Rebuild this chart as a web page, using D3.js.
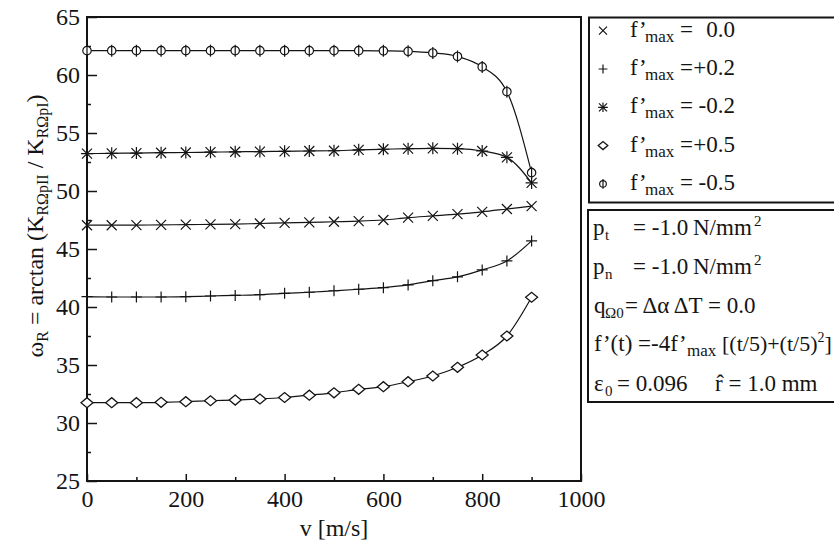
<!DOCTYPE html>
<html><head><meta charset="utf-8">
<script src="https://cdn.jsdelivr.net/npm/d3@7"></script>
<style>
body{margin:0;background:#fff;}
svg{display:block;font-family:"Liberation Serif","Times New Roman",serif;}
</style></head>
<body><svg id="c" width="834" height="544"></svg>
<script>
// ---- data ----
const vValues = [0,50,100,150,200,250,300,350,400,450,500,550,600,650,700,750,800,850,900];
const fmax00  = [47.05,47.05,47.06,47.08,47.10,47.12,47.15,47.20,47.25,47.30,47.35,47.40,47.50,47.70,47.85,48.00,48.20,48.45,48.70];
const fmaxP02 = [40.89,40.86,40.86,40.86,40.89,40.95,41.00,41.06,41.18,41.27,41.40,41.53,41.67,41.90,42.27,42.60,43.20,43.97,45.70];
const fmaxM02 = [53.22,53.25,53.27,53.30,53.32,53.35,53.38,53.40,53.42,53.45,53.47,53.55,53.60,53.65,53.68,53.65,53.45,52.90,50.70];
const fmaxP05 = [31.75,31.75,31.75,31.78,31.84,31.92,31.98,32.07,32.20,32.40,32.60,32.90,33.13,33.56,34.05,34.80,35.86,37.50,40.84];
const fmaxM05 = [62.10,62.10,62.10,62.10,62.10,62.10,62.10,62.10,62.10,62.10,62.10,62.10,62.08,62.04,61.90,61.60,60.70,58.56,51.58];
const seriesNames = ["0.0","+0.2","-0.2","+0.5","-0.5"];
const seriesMarkers = ["x","plus","star","diamond","phi"];
const seriesValues = [fmax00,fmaxP02,fmaxM02,fmaxP05,fmaxM05];
const xMajorTicks = [0,200,400,600,800,1000];
const xMinorTicks = [100,300,500,700,900];
const yMajorTicks = [25,30,35,40,45,50,55,60,65];
const yMinorTicks = [27.5,32.5,37.5,42.5,47.5,52.5,57.5,62.5];

const ink = "#141414";
const svg = d3.select("#c");
const L=87,R=581,T=17,B=481;
const x = d3.scaleLinear().domain([0,1000]).range([L,R]);
const y = d3.scaleLinear().domain([25,65]).range([B,T]);

// axes
const gx = svg.append("g").attr("transform",`translate(0,${B})`)
  .call(d3.axisBottom(x).tickValues(xMajorTicks).tickSize(-7).tickPadding(9).tickFormat(d3.format("d")));
const gxm = svg.append("g").attr("transform",`translate(0,${B})`)
  .call(d3.axisBottom(x).tickValues(xMinorTicks).tickSize(-4).tickFormat(""));
const gy = svg.append("g").attr("transform",`translate(${L},0)`)
  .call(d3.axisLeft(y).tickValues(yMajorTicks).tickSize(-10).tickPadding(7).tickFormat(d3.format("d")));
const gym = svg.append("g").attr("transform",`translate(${L},0)`)
  .call(d3.axisLeft(y).tickValues(yMinorTicks).tickSize(-4).tickFormat(""));
[gx,gxm,gy,gym].forEach(g=>{
  g.select(".domain").remove();
  g.selectAll(".tick line").attr("stroke",ink).attr("stroke-width",1.5);
  g.selectAll("text").attr("fill",ink).style("font-size","24px").style("font-family","Liberation Serif");
});

// frame
svg.append("rect").attr("x",L).attr("y",T).attr("width",R-L).attr("height",B-T)
  .attr("fill","none").attr("stroke",ink).attr("stroke-width",2);

// lines
const line = d3.line().x((d,i)=>x(vValues[i])).y(d=>y(d)).curve(d3.curveMonotoneX);
seriesValues.forEach(vals=>{
  svg.append("path").datum(vals).attr("d",line).attr("fill","none").attr("stroke",ink).attr("stroke-width",1.2);
});

function marker(g,type,s){
  s = s||1;
  const a=5*s;
  if(type==="x"||type==="star"){
    g.append("path").attr("d",`M${-a},${-a}L${a},${a}M${-a},${a}L${a},${-a}`).attr("stroke",ink).attr("stroke-width",1.2);
  }
  if(type==="plus"||type==="star"){
    const b = type==="star"?a*1.2:a*1.1;
    g.append("path").attr("d",`M0,${-b}L0,${b}M${-b},0L${b},0`).attr("stroke",ink).attr("stroke-width",1.2);
  }
  if(type==="diamond"){
    g.append("path").attr("d",`M${-6*s},0L0,${-5*s}L${6*s},0L0,${5*s}Z`).attr("fill","#fff").attr("stroke",ink).attr("stroke-width",1.3);
  }
  if(type==="phi"){
    g.append("circle").attr("r",4.2*s).attr("fill","#fff").attr("stroke",ink).attr("stroke-width",1.2);
    g.append("path").attr("d",`M0,${-6*s}L0,${6*s}`).attr("stroke",ink).attr("stroke-width",1.2);
  }
}
seriesValues.forEach((vals,k)=>{
  const g = svg.append("g");
  g.selectAll("g").data(vals).join("g")
    .attr("transform",(d,i)=>`translate(${x(vValues[i])},${y(d)})`)
    .each(function(){ marker(d3.select(this),seriesMarkers[k],1); });
});

// axis titles
svg.append("text").attr("x",(L+R)/2).attr("y",536).attr("text-anchor","middle")
  .attr("fill",ink).style("font-size","24px").text("v [m/s]");
const yl = svg.append("text").attr("transform","translate(43,226) rotate(-90)")
  .attr("text-anchor","middle").attr("fill",ink).style("font-size","24px");
yl.append("tspan").text("ω");
yl.append("tspan").attr("dy",5).style("font-size","16px").text("R");
yl.append("tspan").attr("dy",-5).text(" = arctan (K");
yl.append("tspan").attr("dy",5).style("font-size","16px").text("RΩpII");
yl.append("tspan").attr("dy",-5).text(" / K");
yl.append("tspan").attr("dy",5).style("font-size","16px").text("RΩpI");
yl.append("tspan").attr("dy",-5).text(")");

// legend box 1
svg.append("rect").attr("x",589).attr("y",17.5).attr("width",260).attr("height",185)
  .attr("fill","#fff").attr("stroke",ink).attr("stroke-width",2);
seriesNames.forEach((nm,k)=>{
  const by = 36.7 + k*38.3;
  const g = svg.append("g").attr("transform",`translate(603,${by-6})`);
  marker(g,seriesMarkers[k],0.8);
  svg.append("text").attr("x",630).attr("y",by).attr("fill",ink).style("font-size","23px").text("f’");
  svg.append("text").attr("x",645).attr("y",by+5).attr("fill",ink).style("font-size","17px").text("max");
  svg.append("text").attr("x",680).attr("y",by).attr("fill",ink).style("font-size","23px").text("=");
  svg.append("text").attr("x",735).attr("y",by).attr("text-anchor","end").attr("fill",ink).style("font-size","23px").text(nm);
});

// legend box 2
svg.append("rect").attr("x",588).attr("y",210).attr("width",260).attr("height",192)
  .attr("fill","#fff").attr("stroke",ink).attr("stroke-width",2);
const fs="23px", sub="15px";
function t(xp,yp,str,size){ return svg.append("text").attr("x",xp).attr("y",yp).attr("fill",ink).style("font-size",size||fs).text(str); }
const b1=235,b2=274,b3=313,b4=351,b5=391;
t(593,b1,"p"); t(605,b1+5,"t",sub); t(633,b1,"= -1.0"); t(693,b1,"N/mm"); t(754,b1-9,"2","15px");
t(593,b2,"p"); t(605,b2+5,"n",sub); t(633,b2,"= -1.0"); t(693,b2,"N/mm"); t(754,b2-9,"2","15px");
t(594,b3,"q"); t(605,b3+5,"Ω0",sub); t(625,b3,"= Δα ΔT = 0.0");
t(594,b4,"f’(t) =-4f’"); t(687,b4+5,"max","17px");
const l4 = svg.append("text").attr("x",722).attr("y",b4).attr("fill",ink).style("font-size","22px");
l4.append("tspan").text("[(t/5)+(t/5)");
l4.append("tspan").attr("dy",-9).style("font-size","14px").text("2");
l4.append("tspan").attr("dy",9).text("]");
t(594,b5,"ε"); t(605,b5+5,"0",sub); t(617,b5,"= 0.096"); t(715,b5,"r̂ = 1.0 mm");
</script></body></html>
